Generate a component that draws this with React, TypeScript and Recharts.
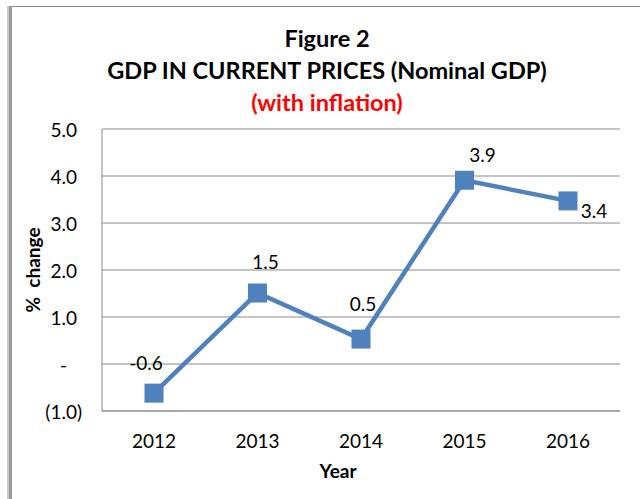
import React from 'react';
import { LineChart, Line, XAxis, YAxis, CartesianGrid, LabelList } from 'recharts';

const years = ['2012', '2013', '2014', '2015', '2016'];
const gdpChange = [-0.62, 1.51, 0.53, 3.91, 3.47];
const labelTexts = ['-0.6', '1.5', '0.5', '3.9', '3.4'];
const yTicks = [-1, 0, 1, 2, 3, 4, 5];

const data = years.map((year, i) => ({ year, value: gdpChange[i], label: labelTexts[i] }));

const FONT = 'Lato, "Open Sans", sans-serif';
const BLUE = '#4F81BD';
const GRID = '#898989';

// label placement relative to each point (style, not data)
const labelOffsets = [
  [-8, -31],
  [8, -32],
  [2, -36],
  [18, -26],
  [26, 10],
];

const fmtTick = (v: number) => {
  if (v === 0) return '-';
  if (v < 0) return `(${Math.abs(v).toFixed(1)})`;
  return v.toFixed(1);
};

const YTick = (props: any) => {
  const { x, y, payload } = props;
  const v = payload.value as number;
  const shift = v > 0 ? 5 : v === 0 ? 15 : 0;
  return (
    <text x={x - shift} y={y} textAnchor="end" dominantBaseline="central" fontFamily={FONT} fontSize={19} fill="#000">
      {fmtTick(v)}
    </text>
  );
};

const XTick = (props: any) => {
  const { x, y, payload } = props;
  return (
    <text x={x} y={y} textAnchor="middle" dominantBaseline="central" fontFamily={FONT} fontSize={19} fill="#000">
      {payload.value}
    </text>
  );
};

const SquareDot = (props: any) => {
  const { cx, cy, index } = props;
  if (cx == null || cy == null) return null;
  return <rect key={`dot-${index}`} x={cx - 9.5} y={cy - 9.5} width={19} height={19} fill={BLUE} />;
};

const DataLabel = (props: any) => {
  const { x, y, index, value } = props;
  const [dx, dy] = labelOffsets[index] || [0, -30];
  return (
    <text x={x + dx} y={y + dy} textAnchor="middle" dominantBaseline="central" fontFamily={FONT} fontSize={19} fill="#000">
      {value}
    </text>
  );
};

export default function App() {
  return (
    <div style={{ position: 'absolute', left: 0, top: 0, width: 640, height: 499, background: '#fff', overflow: 'hidden' }}>
      <div style={{ position: 'absolute', left: 7, top: 6, width: 633, height: 1, background: '#888' }} />
      <div style={{ position: 'absolute', left: 7, top: 6, width: 2, height: 493, background: '#c8c8c8' }} />
      <div style={{ position: 'absolute', left: 9, top: 6, width: 3, height: 493, background: '#9a9a9a' }} />

      <div style={{ position: 'absolute', left: 0, width: 654, top: 22, textAlign: 'center', fontFamily: FONT, fontWeight: 700, fontSize: 23.5, lineHeight: '32px', color: '#000' }}>
        <div>Figure 2</div>
        <div>GDP IN CURRENT PRICES (Nominal GDP)</div>
        <div style={{ color: '#ff0000' }}>(with inflation)</div>
      </div>

      <div style={{ position: 'absolute', left: 0, width: 676, top: 459, textAlign: 'center', fontFamily: FONT, fontWeight: 700, fontSize: 19, lineHeight: '24px', color: '#000' }}>
        Year
      </div>

      <div style={{ position: 'absolute', left: 0, top: 0 }}>
        <LineChart width={640} height={499} data={data} margin={{ top: 129, right: 20, bottom: 58, left: 0 }}>
          <CartesianGrid vertical={false} stroke={GRID} strokeWidth={1} />
          <XAxis
            dataKey="year"
            padding={{ left: 52, right: 52 }}
            axisLine={{ stroke: GRID }}
            tickLine={false}
            tickSize={0}
            tickMargin={29}
            height={30}
            tick={<XTick />}
            interval={0}
          />
          <YAxis
            type="number"
            domain={[-1, 5]}
            ticks={yTicks}
            width={102}
            axisLine={{ stroke: GRID }}
            tickLine={false}
            tickSize={0}
            tickMargin={20}
            tick={<YTick />}
            interval={0}
            label={{
              value: '%\u00a0\u00a0change',
              angle: -90,
              position: 'insideLeft',
              dx: 28,
              style: { fontFamily: FONT, fontWeight: 700, fontSize: 19, fill: '#000', textAnchor: 'middle' },
            }}
          />
          <Line
            type="linear"
            dataKey="value"
            stroke={BLUE}
            strokeWidth={4.5}
            dot={<SquareDot />}
            activeDot={false}
            isAnimationActive={false}
          >
            <LabelList dataKey="label" content={<DataLabel />} />
          </Line>
        </LineChart>
      </div>
    </div>
  );
}
